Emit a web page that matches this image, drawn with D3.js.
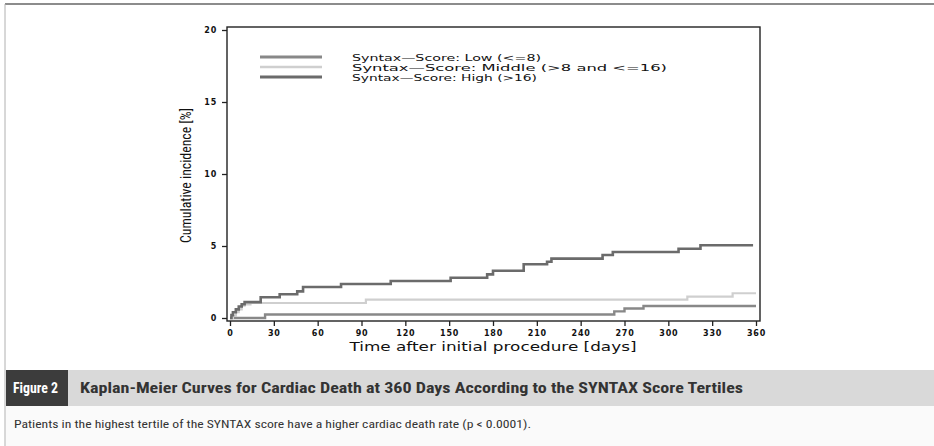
<!DOCTYPE html>
<html>
<head>
<meta charset="utf-8">
<script src="https://cdn.jsdelivr.net/npm/d3@7"></script>
<style>
  html, body { margin: 0; padding: 0; background: #fff; }
  svg { display: block; }
</style>
</head>
<body>
<svg id="fig" width="934" height="446"></svg>
<script>
// Kaplan-Meier step curves: event days and cumulative incidence (%) per tertile
const lowDays    = [0, 24, 263, 270, 283, 360];
const lowPct     = [0, 0.24, 0.46, 0.66, 0.83, 0.83];
const middleDays = [0, 2, 4, 6, 8, 10, 14, 93, 313, 344, 360];
const middlePct  = [0, 0.15, 0.4, 0.6, 0.85, 0.95, 1.04, 1.27, 1.48, 1.72, 1.72];
const highDays   = [0, 1, 2, 4, 6, 8, 10, 21, 34, 46, 50, 76, 110, 151, 176, 180, 201, 217, 220, 255, 262, 307, 322, 358];
const highPct    = [0, 0.2, 0.4, 0.6, 0.8, 0.95, 1.1, 1.44, 1.65, 1.85, 2.15, 2.36, 2.57, 2.8, 3.03, 3.28, 3.73, 3.91, 4.12, 4.38, 4.58, 4.81, 5.05, 5.05];

const seriesNames = ["Syntax\u2014Score: Low (<=8)", "Syntax\u2014Score: Middle (>8 and <=16)", "Syntax\u2014Score: High (>16)"];
const xTicks = [0, 30, 60, 90, 120, 150, 180, 210, 240, 270, 300, 330, 360];
const yTicks = [0, 5, 10, 15, 20];

const figureLabel = "Figure 2";
const figureTitle = "Kaplan-Meier Curves for Cardiac Death at 360 Days According to the SYNTAX Score Tertiles";
const figureNote = "Patients in the highest tertile of the SYNTAX score have a higher cardiac death rate (p < 0.0001).";

const svg = d3.select("#fig");
const narrow = "'Liberation Sans Narrow','Arial Narrow','Roboto Condensed','Liberation Sans',Arial,sans-serif";
const sasFont = "'DejaVu Sans',Verdana,sans-serif";

// page frame
svg.append("line").attr("x1", 5).attr("x2", 934).attr("y1", 4).attr("y2", 4)
  .attr("stroke", "#8c8c8c").attr("stroke-width", 2);
svg.append("line").attr("x1", 5).attr("x2", 5).attr("y1", 4).attr("y2", 446)
  .attr("stroke", "#b0b0b0").attr("stroke-width", 1);

// scales
const x = d3.scaleLinear().domain([0, 360]).range([230, 756]);
const y = d3.scaleLinear().domain([0, 20]).range([318, 30]);

// plot box
const box = { x0: 227, y0: 27, x1: 760, y1: 321 };
svg.append("rect").attr("x", box.x0).attr("y", box.y0)
  .attr("width", box.x1 - box.x0).attr("height", box.y1 - box.y0)
  .attr("fill", "none").attr("stroke", "#222").attr("stroke-width", 1.4);

// axes
const yAxis = d3.axisLeft(y).tickValues(yTicks).tickSize(5).tickPadding(5);
const gy = svg.append("g").attr("transform", `translate(${box.x0},0)`).call(yAxis);
const xAxis = d3.axisBottom(x).tickValues(xTicks).tickSize(5).tickPadding(4);
const gx = svg.append("g").attr("transform", `translate(0,${box.y1})`).call(xAxis);
[gx, gy].forEach(g => {
  g.select(".domain").remove();
  g.selectAll(".tick line").attr("stroke", "#222").attr("stroke-width", 1.3);
  g.selectAll(".tick text").attr("fill", "#111")
    .style("font-family", sasFont).style("font-weight", "bold")
    .style("font-size", "8px").style("letter-spacing", "0.8px");
});

// axis titles
svg.append("text").attr("x", 493).attr("y", 351).attr("text-anchor", "middle")
  .attr("textLength", 287).attr("lengthAdjust", "spacingAndGlyphs")
  .style("font-family", sasFont).style("font-size", "12px").attr("fill", "#111")
  .text("Time after initial procedure [days]");
svg.append("text").attr("transform", "translate(191,175.5) rotate(-90)").attr("text-anchor", "middle")
  .attr("textLength", 135).attr("lengthAdjust", "spacingAndGlyphs")
  .style("font-family", narrow).style("font-size", "14.5px").attr("fill", "#111")
  .text("Cumulative incidence [%]");

// curves
const series = [
  { days: lowDays, pct: lowPct, color: "#888888", width: 2.4 },
  { days: middleDays, pct: middlePct, color: "#cfcfcf", width: 2.2 },
  { days: highDays, pct: highPct, color: "#6b6b6b", width: 2.6 }
];
const line = d3.line().x(d => x(d[0])).y(d => y(d[1])).curve(d3.curveStepAfter);
series.forEach(s => {
  svg.append("path").datum(d3.zip(s.days, s.pct))
    .attr("d", line).attr("fill", "none")
    .attr("stroke", s.color).attr("stroke-width", s.width);
});

// legend
const legendW = [189, 315, 185];
series.forEach((s, i) => {
  const ly = 57 + i * 10;
  svg.append("line").attr("x1", 260).attr("x2", 322).attr("y1", ly).attr("y2", ly)
    .attr("stroke", s.color).attr("stroke-width", s.width + 0.4);
  svg.append("text").attr("x", 352).attr("y", ly + 3.5)
    .attr("textLength", legendW[i]).attr("lengthAdjust", "spacingAndGlyphs")
    .style("font-family", sasFont).style("font-size", "9.5px").attr("fill", "#111")
    .text(seriesNames[i]);
});

// caption band
svg.append("rect").attr("x", 6).attr("y", 370).attr("width", 928).attr("height", 36).attr("fill", "#d9d9d9");
svg.append("rect").attr("x", 6).attr("y", 406).attr("width", 928).attr("height", 40).attr("fill", "#fafafa");
svg.append("rect").attr("x", 6).attr("y", 370).attr("width", 62).attr("height", 36).attr("fill", "#3c3c3c");
svg.append("text").attr("x", 13).attr("y", 393)
  .attr("textLength", 45).attr("lengthAdjust", "spacingAndGlyphs")
  .style("font-family", narrow).style("font-weight", "bold").style("font-size", "14px").attr("fill", "#fff")
  .text(figureLabel);
svg.append("text").attr("x", 80).attr("y", 393)
  .attr("textLength", 663).attr("lengthAdjust", "spacingAndGlyphs")
  .style("font-family", narrow).style("font-weight", "bold").style("font-size", "14px").attr("fill", "#333")
  .text(figureTitle);
svg.append("text").attr("x", 14).attr("y", 428)
  .attr("textLength", 517).attr("lengthAdjust", "spacingAndGlyphs")
  .style("font-family", narrow).style("font-size", "11.5px").attr("fill", "#333")
  .text(figureNote);
</script>
</body>
</html>
